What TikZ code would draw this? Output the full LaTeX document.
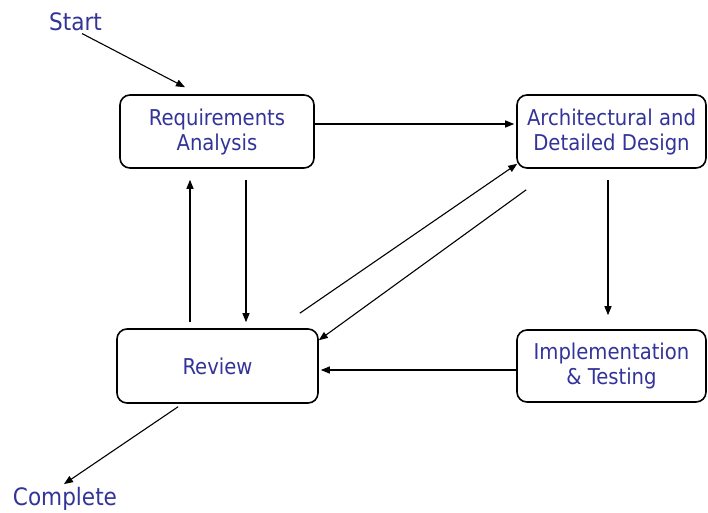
\documentclass[tikz,border=0pt]{standalone}
\usepackage{fontspec}
\setmainfont{DejaVu Sans Condensed}
\usetikzlibrary{arrows.meta}
\definecolor{txtblue}{RGB}{51,51,153}
\tikzset{
  stagebox/.style={draw=black, line width=1.6pt, rounded corners=10pt, inner sep=0pt,
    align=center, text=txtblue, font=\fontsize{21.8}{25}\selectfont},
  endlabel/.style={inner sep=0pt, anchor=base, text=txtblue, font=\fontsize{24}{28}\selectfont},
  flow/.style={draw=black, line width=1.1pt, -{Triangle[length=9pt,width=7pt]}}
}
\begin{document}
\begin{tikzpicture}[x=1pt,y=-1pt]
\useasboundingbox (0,0) rectangle (708,512);
\node[stagebox, minimum width=194pt, minimum height=73pt] (ra) at (217,131.5) {Requirements\\Analysis};
\node[stagebox, minimum width=189pt, minimum height=73pt] (ad) at (611.5,131.5) {Architectural and\\Detailed Design};
\node[stagebox, minimum width=201pt, minimum height=74pt] (rv) at (217.5,366) {Review};
\node[stagebox, minimum width=189pt, minimum height=72pt] (im) at (611.5,366) {Implementation\\\& Testing};
\node[endlabel] (start) at (75.5,30) {Start};
\node[endlabel] (complete) at (65,505.5) {Complete};
% connectors
\draw[flow] ([xshift=6.5pt,yshift=-3pt]start.south) -- ([xshift=-32pt,yshift=7pt]ra.north);
\draw[flow] ([yshift=7.5pt]ra.east) -- ([xshift=-2pt,yshift=7.5pt]ad.west);
\draw[flow] ([xshift=-3.5pt,yshift=-11pt]ad.south) -- ([xshift=-3.5pt,yshift=14pt]im.north);
\draw[flow] ([yshift=-4pt]im.west) -- ([xshift=2pt,yshift=-4pt]rv.east);
\draw[flow] ([xshift=29pt,yshift=-11pt]ra.south) -- ([xshift=28.5pt,yshift=6pt]rv.north);
\draw[flow] ([xshift=-27.5pt,yshift=6pt]rv.north) -- ([xshift=-27pt,yshift=-11pt]ra.south);
\draw[flow] ([xshift=-19pt,yshift=15pt]rv.north east) -- ([xshift=1pt,yshift=5pt]ad.south west);
\draw[flow] ([xshift=10pt,yshift=-21pt]ad.south west) -- ([yshift=-12pt]rv.north east);
\draw[flow] ([xshift=-39.5pt,yshift=-3pt]rv.south) -- ([xshift=-1pt,yshift=3pt]complete.north);
\end{tikzpicture}
\end{document}
